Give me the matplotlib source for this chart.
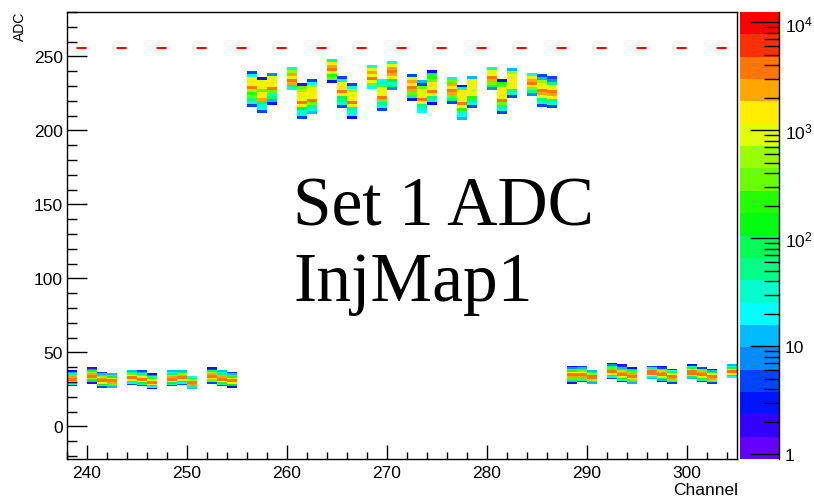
import colorsys
import numpy as np
import matplotlib
matplotlib.use("Agg")
import matplotlib.pyplot as plt
from matplotlib.colors import ListedColormap, LogNorm
from matplotlib.ticker import MultipleLocator, FixedLocator, FixedFormatter

plt.rcParams['font.family'] = ['Liberation Sans', 'DejaVu Sans']
plt.rcParams['mathtext.fontset'] = 'custom'
plt.rcParams['mathtext.rm'] = 'Liberation Sans'
plt.rcParams['mathtext.it'] = 'Liberation Sans'

# channels sitting near the pedestal (1-ADC bins, counts bottom -> top)
low_ch = [238, 240, 241, 242, 244, 245, 246, 248, 249, 250, 252, 253, 254,
          288, 289, 290, 292, 293, 294, 296, 297, 298, 300, 301, 302, 304]
low_lo = [27, 29, 26, 26, 28, 27, 25, 27, 28, 25, 29, 27, 26,
          29, 30, 29, 32, 30, 29, 32, 30, 29, 32, 30, 29, 33]
low_counts = [
    [3, 20, 150, 1200, 3500, 4000, 2000, 400, 60, 10, 2],
    [2, 10, 80, 700, 3000, 4200, 2500, 600, 80, 8, 2],
    [4, 25, 150, 1000, 3500, 4000, 2500, 500, 60, 12, 4],
    [15, 40, 300, 2000, 4000, 3500, 900, 120, 30, 15],
    [5, 30, 250, 1500, 3800, 3800, 1800, 300, 50, 15],
    [6, 30, 200, 1500, 3800, 3500, 1500, 300, 50, 12, 4],
    [3, 20, 150, 1500, 4000, 3500, 1200, 200, 30, 8, 3],
    [5, 30, 150, 900, 3000, 4000, 2500, 600, 100, 25, 15],
    [5, 20, 120, 800, 3000, 4000, 2500, 500, 80, 15],
    [15, 60, 400, 2500, 4000, 3000, 700, 90, 20],
    [5, 40, 300, 1800, 3800, 4000, 2500, 500, 70, 6, 3],
    [6, 40, 250, 1500, 3800, 4000, 2000, 400, 60, 20, 10],
    [3, 15, 150, 1500, 4000, 3800, 1200, 200, 40, 12, 6],
    [2, 10, 60, 400, 2500, 4000, 3800, 1500, 250, 40, 8, 3],
    [5, 30, 300, 2000, 4000, 3800, 1500, 300, 50, 10, 5],
    [10, 60, 500, 3000, 4000, 3000, 500, 60, 15],
    [5, 30, 200, 1500, 3800, 4000, 2000, 400, 60, 8, 2],
    [3, 20, 150, 1200, 3800, 4000, 2500, 600, 80, 15, 5, 2],
    [10, 50, 300, 1800, 3800, 4000, 2000, 400, 60, 15, 3],
    [10, 40, 1000, 3500, 4000, 3000, 600, 60, 5],
    [2, 10, 100, 1000, 3500, 4000, 2500, 500, 50, 5, 3],
    [5, 40, 300, 2500, 4000, 3200, 800, 100, 20, 5],
    [10, 80, 600, 3000, 4000, 3500, 1200, 200, 30, 3],
    [5, 30, 200, 1500, 3800, 4000, 2000, 300, 30, 5],
    [4, 20, 300, 2500, 4000, 3200, 800, 80, 10, 3],
    [20, 150, 1500, 4000, 3800, 1500, 200, 30, 15],
]

# injected channels (2-ADC bins, counts bottom -> top)
inj_ch = [256, 257, 258, 260, 261, 262, 264, 265, 266, 268, 269, 270,
          272, 273, 274, 276, 277, 278, 280, 281, 282, 284, 285, 286]
inj_lo = [216, 212, 217, 227, 208, 211, 232, 215, 208, 228, 213, 227,
          220, 212, 217, 218, 207, 215, 227, 211, 222, 223, 216, 215]
inj_counts = [
    [5, 30, 60, 300, 250, 700, 3000, 1500, 1200, 1300, 40, 6],
    [5, 30, 40, 80, 2500, 1500, 1200, 400, 1300, 1500, 1000, 3],
    [3, 15, 60, 40, 300, 3000, 1500, 1200, 1300, 1000, 8],
    [40, 60, 2500, 3000, 1500, 2500, 700, 30],
    [5, 30, 40, 150, 800, 3000, 1500, 1000, 1200, 700, 300, 2],
    [15, 40, 60, 300, 3000, 1500, 1000, 1200, 1000, 500, 20, 5],
    [3, 400, 200, 1500, 3000, 2500, 1200, 60],
    [5, 40, 60, 80, 1300, 3000, 1500, 1200, 1000, 30, 4],
    [3, 25, 40, 60, 1000, 3000, 1400, 1200, 1000, 700, 20, 5],
    [20, 400, 800, 3000, 1500, 2500, 1500, 30],
    [5, 40, 60, 400, 3000, 1200, 1000, 1200, 300, 40, 20],
    [8, 60, 40, 150, 1200, 2500, 3000, 2000, 1000, 30],
    [3, 60, 300, 2500, 3000, 1500, 2500, 800, 5],
    [20, 40, 60, 1500, 3000, 1200, 1000, 1200, 300, 5, 10],
    [3, 40, 60, 1500, 3000, 1200, 1000, 1500, 300, 200, 100, 3],
    [6, 60, 300, 2500, 3000, 1500, 2500, 400, 30],
    [15, 25, 40, 200, 800, 3000, 1500, 1200, 1000, 1200, 40, 3],
    [5, 40, 60, 200, 1500, 1000, 1200, 1500, 1000, 1300, 15],
    [8, 60, 300, 2000, 3000, 1500, 800, 30],
    [5, 30, 60, 300, 3000, 1500, 1000, 1200, 800, 300, 200, 3],
    [5, 40, 60, 800, 1300, 1500, 1200, 1000, 700, 10],
    [8, 60, 300, 1500, 3000, 2500, 1200, 20],
    [5, 40, 60, 800, 2000, 3000, 1500, 1000, 500, 10, 5],
    [4, 40, 60, 1200, 2500, 3000, 1500, 800, 60, 8, 4],
]

sat_level = 256
x_min, x_max = 238, 305
y_min, y_max = -22, 280

x_edges = np.arange(x_min, x_max + 1)
y_edges = np.arange(y_min, y_max + 1)
H = np.zeros((len(y_edges) - 1, len(x_edges) - 1))
for ch, lo, c in zip(low_ch, low_lo, low_counts):
    H[lo - y_min:lo - y_min + len(c), ch - x_min] = c
for ch, lo, c in zip(inj_ch, inj_lo, inj_counts):
    c2 = np.repeat(c, 2)
    H[lo - y_min:lo - y_min + len(c2), ch - x_min] = c2
H = np.ma.masked_where(H <= 0, H)

# ROOT "pretty" palette, 20 contour levels
cols = []
for j in range(20):
    k = int((j + 0.99) * 50 / 20)
    hue = 280 - (k + 1) * 280 / 50
    cols.append(colorsys.hls_to_rgb(hue / 360, 0.5, 1.0))
cmap = ListedColormap(cols)
norm = LogNorm(vmin=0.9, vmax=1.25e4)

W, Hh = 814, 502
fig = plt.figure(figsize=(W / 100, Hh / 100), dpi=100)
ax = fig.add_axes([67 / W, 42 / Hh, 670 / W, 447 / Hh])
cax = fig.add_axes([740 / W, 42 / Hh, 39 / W, 447 / Hh])

mesh = ax.pcolormesh(x_edges, y_edges, H, cmap=cmap, norm=norm,
                     shading='flat', edgecolors='none', antialiased=False)
ax.plot([x_min, x_max], [sat_level, sat_level], color='red', lw=1.5,
        linestyle=(14.6, (4.8, 14.4)))

ax.set_xlim(x_min, x_max)
ax.set_ylim(y_min, y_max)
ax.xaxis.set_major_locator(MultipleLocator(10))
ax.xaxis.set_minor_locator(MultipleLocator(2))
ax.yaxis.set_major_locator(MultipleLocator(50))
ax.yaxis.set_minor_locator(MultipleLocator(10))
ax.tick_params(axis='x', which='major', direction='in', length=10, width=1,
               labelsize=12.5, pad=4, top=False)
ax.tick_params(axis='x', which='minor', direction='in', length=5, width=1, top=False)
ax.tick_params(axis='y', which='major', direction='in', length=14.5, width=1,
               labelsize=12.5, pad=3, right=False)
ax.tick_params(axis='y', which='minor', direction='in', length=7, width=1, right=False)
for s in ax.spines.values():
    s.set_linewidth(1)

fig.text(20 / W, 1 - 12 / Hh, 'ADC', rotation=90, ha='center', va='top', fontsize=10)
fig.text(738 / W, 1 - 495 / Hh, 'Channel', ha='right', va='baseline', fontsize=12.5)

ax.text((293 - 67) / 670, (460 - 226) / 447, 'Set 1 ADC', transform=ax.transAxes,
        family='Liberation Serif', fontsize=50, ha='left', va='baseline')
ax.text((293 - 67) / 670, (460 - 301) / 447, 'InjMap1', transform=ax.transAxes,
        family='Liberation Serif', fontsize=50, ha='left', va='baseline')

cb = fig.colorbar(mesh, cax=cax)
cb.outline.set_visible(False)
cax.yaxis.set_major_locator(FixedLocator([1, 10, 100, 1000, 10000]))
cax.yaxis.set_major_formatter(FixedFormatter(['1', '10', '$10^{2}$', '$10^{3}$', '$10^{4}$']))
minors = [m * 10 ** d for d in range(0, 5) for m in range(2, 10) if m * 10 ** d < 1.25e4]
cax.yaxis.set_minor_locator(FixedLocator(minors))
cax.yaxis.set_minor_formatter(FixedFormatter([''] * len(minors)))
cax.tick_params(which='major', direction='in', length=21, width=1, labelsize=12.5, pad=4)
cax.tick_params(which='minor', direction='in', length=11, width=1)
cax.plot([1, 1], [0, 1], transform=cax.transAxes, color='black', lw=1, clip_on=False)

fig.savefig('out.png', dpi=100)
